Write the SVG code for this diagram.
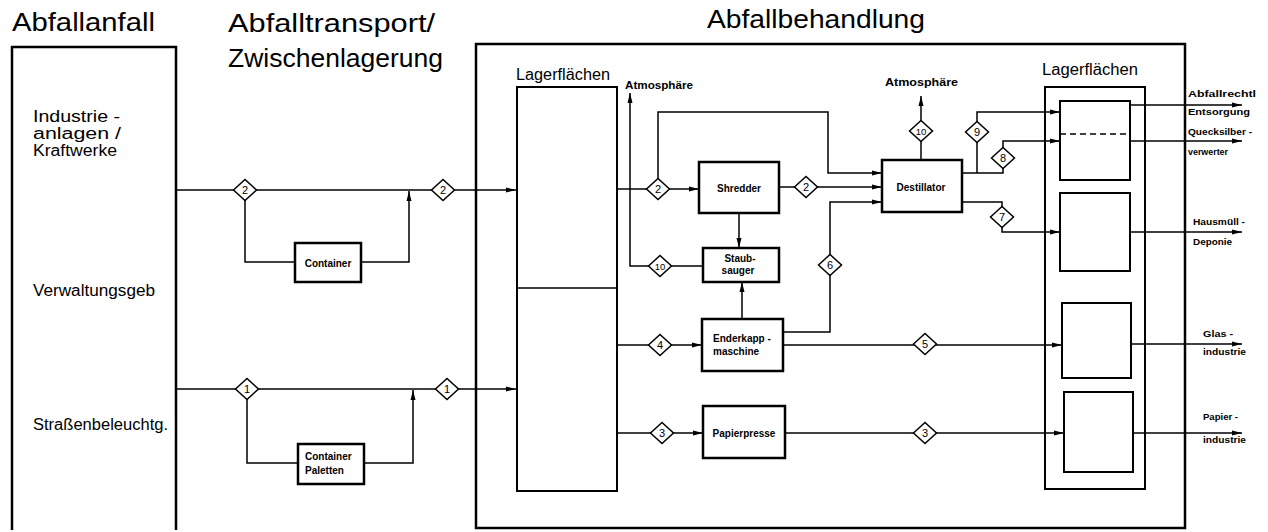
<svg xmlns="http://www.w3.org/2000/svg" width="1268" height="532" viewBox="0 0 1268 532">
<style>
text{font-family:"Liberation Sans",Arial,sans-serif;fill:#000}
.h{font-size:25px}
.m{font-size:16px}
.s{font-size:10px;font-weight:bold}
.xs{font-size:9px;font-weight:bold}
.d{font-size:11px;text-anchor:middle}
.d10{font-size:9.5px;text-anchor:middle}
.c{text-anchor:middle}
.frame{fill:none;stroke:#000;stroke-width:2.5}
.box{fill:none;stroke:#000;stroke-width:2}
.proc{fill:#fff;stroke:#000;stroke-width:2.5}
.ln{fill:none;stroke:#000;stroke-width:1.5}
.ar{marker-end:url(#ah)}
.dia{fill:#fff;stroke:#000;stroke-width:1.5}
.dash{stroke:#000;stroke-width:1.5;stroke-dasharray:6 4}
</style>
<defs>
<marker id="ah" markerUnits="userSpaceOnUse" markerWidth="10" markerHeight="6" refX="10" refY="3" orient="auto">
<path d="M0,0.5 L10,3 L0,5.5 z" fill="#000"/>
</marker>
</defs>
<rect width="1268" height="532" fill="#fff"/>
<g id="titles">
<text class="h" x="12" y="31" textLength="143" lengthAdjust="spacingAndGlyphs">Abfallanfall</text>
<text class="h" x="228" y="32" textLength="207" lengthAdjust="spacingAndGlyphs">Abfalltransport/</text>
<text class="h" x="228" y="67" textLength="215" lengthAdjust="spacingAndGlyphs">Zwischenlagerung</text>
<text class="h" x="707" y="28" textLength="218" lengthAdjust="spacingAndGlyphs">Abfallbehandlung</text>
</g>
<g id="connectors">
<path class="ln ar" d="M176,190 H516"/>
<path class="ln" d="M245,190 V262 H295"/>
<path class="ln ar" d="M361,262 H409 V191"/>
<path class="ln ar" d="M176,389 H516"/>
<path class="ln" d="M247,389 V463 H298"/>
<path class="ln ar" d="M364,463 H413 V390"/>
<path class="ln ar" d="M617,189 H699"/>
<path class="ln ar" d="M658,189 V112 H828 V173 H882"/>
<path class="ln ar" d="M779,187 H882"/>
<path class="ln ar" d="M739,213 V248"/>
<path class="ln ar" d="M742,319 V282"/>
<path class="ln ar" d="M703,266 H630 V93"/>
<path class="ln ar" d="M783,332 H830 V202 H882"/>
<path class="ln ar" d="M618,345 H702"/>
<path class="ln ar" d="M783,345 H1062"/>
<path class="ln ar" d="M618,433 H703"/>
<path class="ln ar" d="M785,433 H1064"/>
<path class="ln ar" d="M921,160 V96"/>
<path class="ln ar" d="M962,173 H1003 V141 H1060"/>
<path class="ln ar" d="M977,173 V112 H1060"/>
<path class="ln ar" d="M962,202 H1002 V232 H1060"/>
<path class="ln ar" d="M1130,105 H1242"/>
<path class="ln ar" d="M1130,141 H1242"/>
<path class="ln ar" d="M1130,232 H1242"/>
<path class="ln ar" d="M1131,344 H1242"/>
<path class="ln ar" d="M1133,433 H1242"/>
</g>
<g id="abfallanfall">
<path class="frame" d="M12,530 V47 H176 V530"/>
<text class="m" x="33" y="122" textLength="87" lengthAdjust="spacingAndGlyphs">Industrie -</text>
<text class="m" x="33" y="139" textLength="88" lengthAdjust="spacingAndGlyphs">anlagen /</text>
<text class="m" x="33" y="156" textLength="84" lengthAdjust="spacingAndGlyphs">Kraftwerke</text>
<text class="m" x="33" y="296" textLength="122" lengthAdjust="spacingAndGlyphs">Verwaltungsgeb</text>
<text class="m" x="33" y="430" textLength="135" lengthAdjust="spacingAndGlyphs">Straßenbeleuchtg.</text>
</g>
<g id="abfallbehandlung">
<rect class="frame" x="476" y="44" width="709" height="484"/>
</g>
<g id="container">
<rect class="proc" x="295" y="243" width="66" height="39"/>
<text class="s c" x="328" y="267">Container</text>
</g>
<g id="container-paletten">
<rect class="proc" x="298" y="444" width="66" height="40"/>
<text class="s" x="305" y="460">Container</text>
<text class="s" x="305" y="474">Paletten</text>
</g>
<g id="lagerflaechen-links">
<rect class="box" x="517" y="87" width="100" height="404"/>
<line class="ln" x1="517" y1="288" x2="617" y2="288"/>
<text class="m" x="516" y="80" textLength="94" lengthAdjust="spacingAndGlyphs">Lagerflächen</text>
</g>
<g id="atmosphaere-links">
<text class="s" x="625" y="89" textLength="68" lengthAdjust="spacingAndGlyphs">Atmosphäre</text>
</g>
<g id="shredder">
<rect class="proc" x="699" y="162" width="80" height="51"/>
<text class="s c" x="739" y="192">Shredder</text>
</g>
<g id="staubsauger">
<rect class="proc" x="703" y="248" width="76" height="34"/>
<text class="s c" x="740" y="262">Staub-</text>
<text class="s c" x="738" y="274">sauger</text>
</g>
<g id="enderkappmaschine">
<rect class="proc" x="702" y="319" width="81" height="52"/>
<text class="s" x="713" y="342">Enderkapp -</text>
<text class="s" x="713" y="355">maschine</text>
</g>
<g id="papierpresse">
<rect class="proc" x="703" y="406" width="82" height="52"/>
<text class="s c" x="744" y="437">Papierpresse</text>
</g>
<g id="destillator">
<rect class="proc" x="882" y="160" width="80" height="52"/>
<text class="s c" x="921" y="191">Destillator</text>
</g>
<g id="atmosphaere-rechts">
<text class="s" x="885" y="86" textLength="73" lengthAdjust="spacingAndGlyphs">Atmosphäre</text>
</g>
<g id="lagerflaechen-rechts">
<rect class="box" x="1045" y="87" width="100" height="402"/>
<text class="m" x="1042" y="75" textLength="96" lengthAdjust="spacingAndGlyphs">Lagerflächen</text>
<rect class="box" x="1060" y="101" width="70" height="79" fill="#fff"/>
<line class="dash" x1="1060" y1="134" x2="1130" y2="134"/>
<rect class="box" x="1060" y="193" width="70" height="78"/>
<rect class="box" x="1062" y="303" width="69" height="75"/>
<rect class="box" x="1064" y="392" width="69" height="80"/>
</g>
<g id="ziele">
<text class="xs" x="1188" y="97" textLength="68" lengthAdjust="spacingAndGlyphs">Abfallrechtl</text>
<text class="xs" x="1188" y="115" textLength="62" lengthAdjust="spacingAndGlyphs">Entsorgung</text>
<text class="xs" x="1188" y="135" textLength="64" lengthAdjust="spacingAndGlyphs">Quecksilber -</text>
<text class="xs" x="1188" y="155" textLength="40" lengthAdjust="spacingAndGlyphs">verwerter</text>
<text class="xs" x="1193" y="225" textLength="52" lengthAdjust="spacingAndGlyphs">Hausmüll -</text>
<text class="xs" x="1193" y="245" textLength="39" lengthAdjust="spacingAndGlyphs">Deponie</text>
<text class="xs" x="1203" y="337" textLength="30" lengthAdjust="spacingAndGlyphs">Glas -</text>
<text class="xs" x="1203" y="355" textLength="43" lengthAdjust="spacingAndGlyphs">industrie</text>
<text class="xs" x="1203" y="420" textLength="35" lengthAdjust="spacingAndGlyphs">Papier -</text>
<text class="xs" x="1203" y="443" textLength="43" lengthAdjust="spacingAndGlyphs">industrie</text>
</g>
<g id="d2a"><polygon class="dia" points="233.5,190 245,179.5 256.5,190 245,200.5"/><text class="d" x="245" y="194">2</text></g>
<g id="d2b"><polygon class="dia" points="431.5,190 443,179.5 454.5,190 443,200.5"/><text class="d" x="443" y="194">2</text></g>
<g id="d1a"><polygon class="dia" points="235.5,389 247,378.5 258.5,389 247,399.5"/><text class="d" x="247" y="393">1</text></g>
<g id="d1b"><polygon class="dia" points="435.5,389 447,378.5 458.5,389 447,399.5"/><text class="d" x="447" y="393">1</text></g>
<g id="d2c"><polygon class="dia" points="646.5,189 658,178.5 669.5,189 658,199.5"/><text class="d" x="658" y="193">2</text></g>
<g id="d2d"><polygon class="dia" points="794.5,187 806,176.5 817.5,187 806,197.5"/><text class="d" x="806" y="191">2</text></g>
<g id="d10a"><polygon class="dia" points="648.5,266 660,255.5 671.5,266 660,276.5"/><text class="d10" x="660" y="269.5">10</text></g>
<g id="d6"><polygon class="dia" points="818.5,265 830,254.5 841.5,265 830,275.5"/><text class="d" x="830" y="269">6</text></g>
<g id="d4"><polygon class="dia" points="648.5,345 660,334.5 671.5,345 660,355.5"/><text class="d" x="660" y="349">4</text></g>
<g id="d3a"><polygon class="dia" points="650.5,433 662,422.5 673.5,433 662,443.5"/><text class="d" x="662" y="437">3</text></g>
<g id="d5"><polygon class="dia" points="913.5,344 925,333.5 936.5,344 925,354.5"/><text class="d" x="925" y="348">5</text></g>
<g id="d3b"><polygon class="dia" points="913.5,433 925,422.5 936.5,433 925,443.5"/><text class="d" x="925" y="437">3</text></g>
<g id="d10b"><polygon class="dia" points="909.5,131 921,120.5 932.5,131 921,141.5"/><text class="d10" x="921" y="134.5">10</text></g>
<g id="d9"><polygon class="dia" points="965.5,132 977,121.5 988.5,132 977,142.5"/><text class="d" x="977" y="136">9</text></g>
<g id="d8"><polygon class="dia" points="991.5,158 1003,147.5 1014.5,158 1003,168.5"/><text class="d" x="1003" y="162">8</text></g>
<g id="d7"><polygon class="dia" points="990.5,217 1002,206.5 1013.5,217 1002,227.5"/><text class="d" x="1002" y="221">7</text></g>
</svg>
